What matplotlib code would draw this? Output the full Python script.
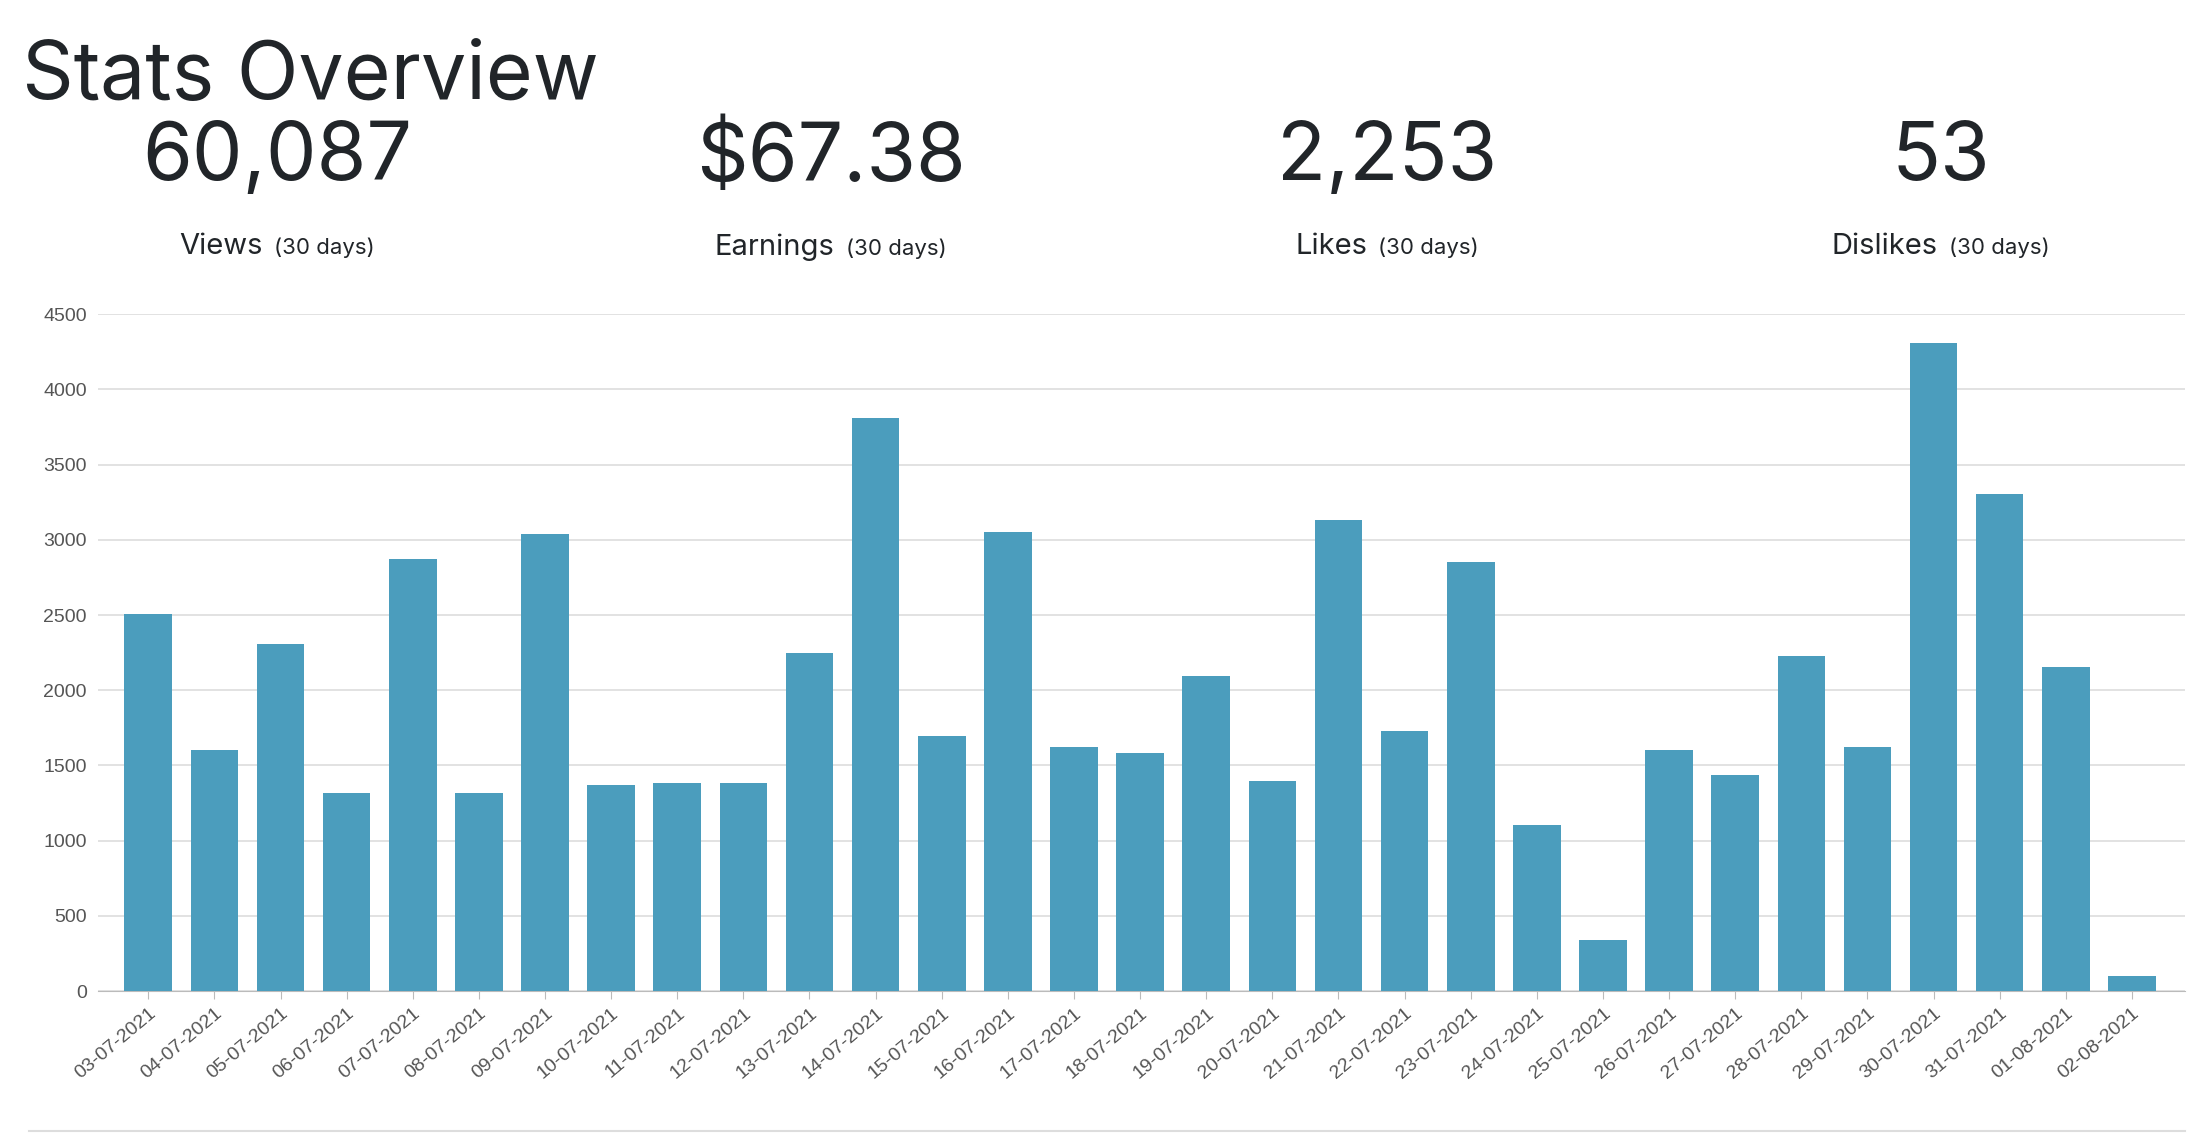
import matplotlib
matplotlib.use("Agg")
import matplotlib.pyplot as plt
from matplotlib.offsetbox import HPacker, TextArea, AnchoredOffsetbox, AnnotationBbox

dates = ["03-07-2021","04-07-2021","05-07-2021","06-07-2021","07-07-2021","08-07-2021","09-07-2021",
         "10-07-2021","11-07-2021","12-07-2021","13-07-2021","14-07-2021","15-07-2021","16-07-2021",
         "17-07-2021","18-07-2021","19-07-2021","20-07-2021","21-07-2021","22-07-2021","23-07-2021",
         "24-07-2021","25-07-2021","26-07-2021","27-07-2021","28-07-2021","29-07-2021","30-07-2021",
         "31-07-2021","01-08-2021","02-08-2021"]
views = [2510,1600,2310,1320,2870,1315,3040,1370,1385,1385,2250,3810,1695,3050,1620,1580,2095,
         1400,3130,1730,2855,1105,340,1600,1440,2230,1620,4310,3305,2155,100]
stat_values = ["60,087", "$67.38", "2,253", "53"]
stat_labels = ["Views", "Earnings", "Likes", "Dislikes"]
stat_sub = "(30 days)"

fig = plt.figure(figsize=(21.98, 11.38), dpi=100)
txt = "#212529"
fig.text(0.010, 0.965, "Stats Overview", fontsize=58, family="Inter", color=txt, va="top")
xs = [0.126, 0.378, 0.631, 0.883]
for x, v, l in zip(xs, stat_values, stat_labels):
    fig.text(x, 0.860, v, fontsize=58, family="Inter", color=txt, ha="center", va="center")
    box = HPacker(children=[TextArea(l, textprops=dict(fontsize=21, family="Inter", color=txt)),
                            TextArea(stat_sub, textprops=dict(fontsize=16, family="Inter", color=txt))],
                  align="baseline", pad=0, sep=8)
    ab = AnnotationBbox(box, (x, 0.783), xycoords="figure fraction", frameon=False, box_alignment=(0.5, 0.5))
    fig.add_artist(ab)

ax = fig.add_axes([0.0446, 0.129, 0.9494, 0.595])
ax.bar(range(len(dates)), views, width=0.72, color="#4b9dbd", zorder=3)
ax.set_xlim(-0.76, len(dates) - 1 + 0.8)
ax.set_ylim(0, 4500)
ax.set_yticks(range(0, 4501, 500))
ax.set_xticks(range(len(dates)))
ax.set_xticklabels(dates, rotation=40, ha="right", rotation_mode="anchor")
ax.grid(axis="y", color="#dddddd", linewidth=1.2, zorder=0)
for s in ["top", "right", "left"]:
    ax.spines[s].set_visible(False)
ax.spines["bottom"].set_color("#bbbbbb")
ax.tick_params(axis="y", length=0, labelsize=14, colors="#555555", pad=8)
ax.tick_params(axis="x", length=6, color="#bbbbbb", labelsize=14, colors="#555555")
for lab in ax.get_xticklabels() + ax.get_yticklabels():
    lab.set_family("Liberation Sans")
fig.add_artist(plt.Line2D([0.013, 0.994], [0.006, 0.006], color="#dddddd", lw=1.5, transform=fig.transFigure))
fig.savefig("out.png", dpi=100)
